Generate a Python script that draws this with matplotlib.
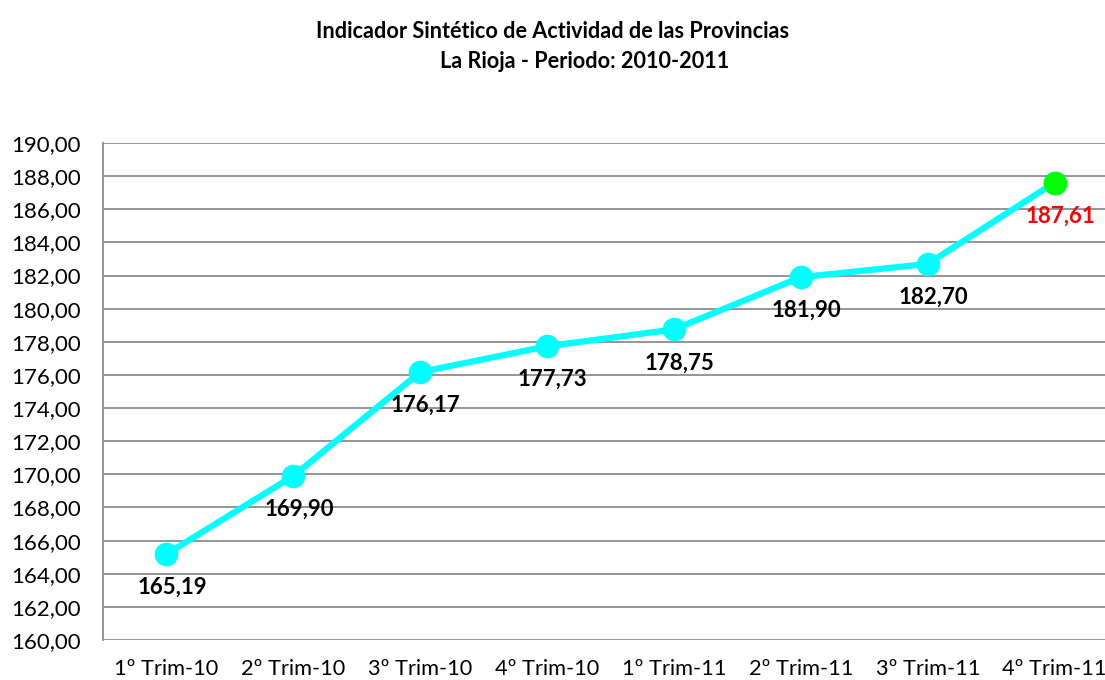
import matplotlib
matplotlib.use("Agg")
import matplotlib.pyplot as plt

categories = ["1º Trim-10", "2º Trim-10", "3º Trim-10", "4º Trim-10",
              "1º Trim-11", "2º Trim-11", "3º Trim-11", "4º Trim-11"]
values = [165.19, 169.90, 176.17, 177.73, 178.75, 181.90, 182.70, 187.61]
yticks = [160 + 2 * i for i in range(16)]

plt.rcParams['font.family'] = ['Lato', 'DejaVu Sans']

fig = plt.figure(figsize=(11.05, 6.8), dpi=100)
ax = fig.add_axes([103 / 1105, 40 / 680, 1015 / 1105, 497 / 680])

x = list(range(len(categories)))
ax.plot(x, values, color="#00FFFF", lw=4.5, marker="o", markersize=16,
        markerfacecolor="#00FFFF", markeredgecolor="#00FFFF", zorder=3, clip_on=False)
ax.plot([x[-1]], [values[-1]], marker="o", markersize=16, color="#00FF00",
        zorder=4, clip_on=False, linestyle="none")

for i, v in enumerate(values):
    lab = f"{v:.2f}".replace(".", ",")
    col = "red" if i == len(values) - 1 else "black"
    ax.annotate(lab, (i, v), xytext=(4, -24), textcoords="offset points",
                ha="center", va="center", fontsize=16, fontweight="bold",
                color=col, zorder=5)

ax.set_xlim(-0.5, len(categories) - 0.5)
ax.set_ylim(160, 190)
ax.set_yticks(yticks)
ax.set_yticklabels([f"{t:.2f}".replace(".", ",") for t in yticks], fontsize=16)
ax.set_xticks(x)
ax.set_xticklabels(categories, fontsize=15.7)
ax.tick_params(axis="both", length=0)
ax.tick_params(axis="x", pad=14)
ax.tick_params(axis="y", pad=16)
ax.grid(axis="y", color="#8c8c8c", lw=1.3)
ax.set_axisbelow(True)
for s in ["top", "right", "bottom"]:
    ax.spines[s].set_visible(False)
ax.spines["left"].set_color("#8c8c8c")
ax.spines["left"].set_linewidth(1.3)

fig.text(553 / 1105, 1 - 32 / 680, "Indicador Sintético de Actividad de las Provincias",
         ha="center", va="center", fontsize=15.6, fontweight="bold")
fig.text(585 / 1105, 1 - 62 / 680, "La Rioja - Periodo: 2010-2011",
         ha="center", va="center", fontsize=15.6, fontweight="bold")

fig.savefig("out.png", dpi=100)
